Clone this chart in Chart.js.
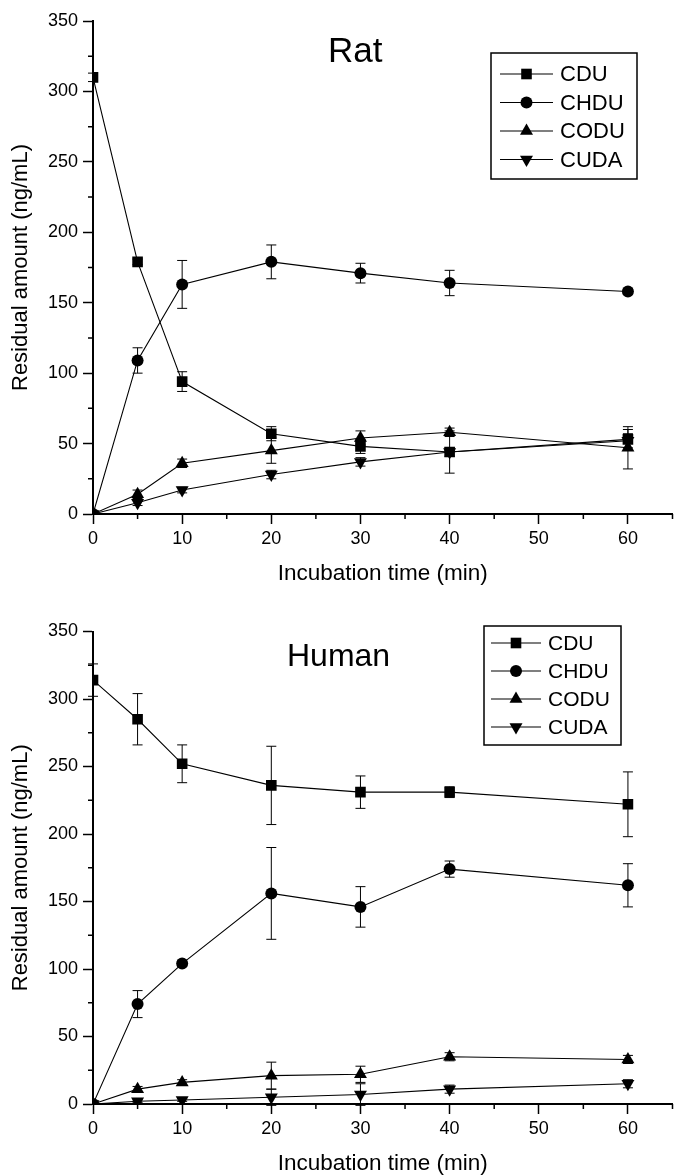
<!DOCTYPE html>
<html>
<head>
<meta charset="utf-8">
<script src="https://cdn.jsdelivr.net/npm/chart.js@4"></script>
<style>
  html, body { margin: 0; padding: 0; background: #fff; overflow: hidden; }
  #wrap { position: relative; width: 676px; height: 1175px; overflow: hidden; }
  .panel { position: absolute; left: 0; width: 680px; height: 590px; }
</style>
</head>
<body>
<div id="wrap">
  <div class="panel" style="top:0"><canvas id="rat"></canvas></div>
  <div class="panel" style="top:590px"><canvas id="human"></canvas></div>
</div>
<script>
// Datos
const times = [0, 5, 10, 20, 30, 40, 60];
const seriesNames = ['CDU', 'CHDU', 'CODU', 'CUDA'];
const xTickLabels = [0, 10, 20, 30, 40, 50, 60];
const yTickLabels = [0, 50, 100, 150, 200, 250, 300, 350];

// Rata
const ratCDU = [310, 179, 94, 57, 48, 44, 53];
const ratCDUErr = [3, 2, 7, 5, 5, 15, 7];
const ratCHDU = [0, 109, 163, 179, 171, 164, 158];
const ratCHDUErr = [0, 9, 17, 12, 7, 9, 2];
const ratCODU = [0, 14, 36, 45, 54, 58, 47];
const ratCODUErr = [0, 3, 3, 9, 5, 3, 15];
const ratCUDA = [0, 8, 17, 28, 37, 44, 52];
const ratCUDAErr = [0, 2, 2, 3, 3, 3, 5];

// Humano
const humCDU = [314, 285, 252, 236, 231, 231, 222];
const humCDUErr = [12, 19, 14, 29, 12, 4, 24];
const humCHDU = [0, 74, 104, 156, 146, 174, 162];
const humCHDUErr = [0, 10, 2, 34, 15, 6, 16];
const humCODU = [0, 11, 16, 21, 22, 35, 33];
const humCODUErr = [0, 2, 2, 10, 6, 3, 3];
const humCUDA = [0, 2, 3, 5, 7, 11, 15];
const humCUDAErr = [0, 1, 1, 6, 8, 3, 3];

const FONT = '"Liberation Sans", Arial, Helvetica, sans-serif';
const markers = [
  { pointStyle: 'rect', pointRadius: 7.5, pointRotation: 0 },
  { pointStyle: 'circle', pointRadius: 6, pointRotation: 0 },
  { pointStyle: 'triangle', pointRadius: 7.5, pointRotation: 0 },
  { pointStyle: 'triangle', pointRadius: 7.5, pointRotation: 180 }
];

// Barras de error (media +/- desviacion)
const errorBars = {
  id: 'errorBars',
  beforeDatasetsDraw(chart) {
    const { ctx, scales: { x, y } } = chart;
    ctx.save();
    ctx.strokeStyle = '#000';
    ctx.lineWidth = 1;
    chart.data.datasets.forEach(ds => {
      ds.data.forEach((p, i) => {
        const e = ds.errors[i];
        if (!e) return;
        const px = x.getPixelForValue(p.x);
        const top = y.getPixelForValue(p.y + e);
        const bot = y.getPixelForValue(p.y - e);
        ctx.beginPath();
        ctx.moveTo(px, top); ctx.lineTo(px, bot);
        ctx.moveTo(px - 5, top); ctx.lineTo(px + 5, top);
        ctx.moveTo(px - 5, bot); ctx.lineTo(px + 5, bot);
        ctx.stroke();
      });
    });
    ctx.restore();
  }
};

// Marcas menores cortas (las mayores las dibuja Chart.js)
const minorTicks = {
  id: 'minorTicks',
  afterDraw(chart) {
    const { ctx, scales: { x, y } } = chart;
    ctx.save();
    ctx.strokeStyle = '#000';
    ctx.lineWidth = 1.5;
    ctx.beginPath();
    x.ticks.forEach(t => {
      if (xTickLabels.includes(t.value)) return;
      const px = x.getPixelForValue(t.value);
      ctx.moveTo(px, x.top); ctx.lineTo(px, x.top + 5);
    });
    y.ticks.forEach(t => {
      if (yTickLabels.includes(t.value)) return;
      const py = y.getPixelForValue(t.value);
      ctx.moveTo(y.right, py); ctx.lineTo(y.right - 5, py);
    });
    ctx.stroke();
    ctx.restore();
  }
};

// Leyenda con recuadro, linea y marcador
const boxLegend = {
  id: 'boxLegend',
  afterDraw(chart, args, o) {
    const ctx = chart.ctx;
    ctx.save();
    ctx.strokeStyle = '#000';
    ctx.fillStyle = '#000';
    ctx.lineWidth = 1.5;
    ctx.strokeRect(o.left, o.top, o.width, o.height);
    ctx.font = o.fontSize + 'px ' + FONT;
    ctx.textBaseline = 'middle';
    chart.data.datasets.forEach((ds, i) => {
      const cy = o.top + o.firstRow + i * o.rowGap;
      ctx.lineWidth = 1.2;
      ctx.beginPath();
      ctx.moveTo(o.left + o.lineFrom, cy);
      ctx.lineTo(o.left + o.lineTo, cy);
      ctx.stroke();
      Chart.helpers.drawPoint(ctx, {
        pointStyle: ds.pointStyle, rotation: ds.pointRotation, radius: ds.pointRadius, borderWidth: 0
      }, o.left + (o.lineFrom + o.lineTo) / 2, cy);
      ctx.fillText(ds.label, o.left + o.textAt, cy + 1);
    });
    ctx.restore();
  }
};

// Rotulo del panel (Rat / Human)
const panelLabel = {
  id: 'panelLabel',
  afterDraw(chart, args, o) {
    const ctx = chart.ctx;
    ctx.save();
    ctx.fillStyle = '#000';
    ctx.font = o.fontSize + 'px ' + FONT;
    ctx.textBaseline = 'alphabetic';
    ctx.fillText(o.text, o.x, o.y);
    ctx.restore();
  }
};

function makeChart(id, values, errors, opts) {
  const datasets = seriesNames.map((name, k) => ({
    label: name,
    data: times.map((t, i) => ({ x: t, y: values[k][i] })),
    errors: errors[k],
    borderColor: '#000',
    borderWidth: 1.1,
    backgroundColor: '#000',
    pointBackgroundColor: '#000',
    pointBorderWidth: 0,
    pointStyle: markers[k].pointStyle,
    pointRadius: markers[k].pointRadius,
    pointRotation: markers[k].pointRotation,
    tension: 0,
    fill: false
  }));

  return new Chart(document.getElementById(id), {
    type: 'line',
    data: { datasets },
    plugins: [errorBars, minorTicks, boxLegend, panelLabel],
    options: {
      responsive: true,
      maintainAspectRatio: false,
      animation: false,
      events: [],
      layout: { padding: { top: opts.top, right: 2, left: 0, bottom: 0 } },
      plugins: {
        legend: { display: false },
        tooltip: { enabled: false },
        boxLegend: opts.legend,
        panelLabel: opts.label
      },
      scales: {
        x: {
          type: 'linear', min: 0, max: 65,
          ticks: {
            stepSize: 5, autoSkip: false, maxRotation: 0, color: '#000', padding: 4,
            font: { size: 18, family: FONT },
            callback: v => xTickLabels.includes(v) ? String(v) : ''
          },
          grid: {
            drawOnChartArea: false, tickLength: 10, tickWidth: 1.5,
            tickColor: c => (c.tick && xTickLabels.includes(c.tick.value)) ? '#000' : 'rgba(0,0,0,0)'
          },
          border: { display: true, color: '#000', width: 2 },
          title: {
            display: true, text: 'Incubation time (min)', color: '#000',
            font: { size: 22.5, family: FONT }, padding: { top: 0, bottom: 3 }
          },
          afterFit: s => { s.height = 76; }
        },
        y: {
          type: 'linear', min: 0, max: 350,
          ticks: {
            stepSize: 25, autoSkip: false, color: '#000', padding: 5,
            font: { size: 18, family: FONT },
            callback: v => yTickLabels.includes(v) ? String(v) : ''
          },
          grid: {
            drawOnChartArea: false, tickLength: 10, tickWidth: 1.5,
            tickColor: c => (c.tick && yTickLabels.includes(c.tick.value)) ? '#000' : 'rgba(0,0,0,0)'
          },
          border: { display: true, color: '#000', width: 2 },
          title: {
            display: true, text: 'Residual amount (ng/mL)', color: '#000',
            font: { size: 22, family: FONT }, padding: { top: 8, bottom: 0 }
          },
          afterFit: s => { s.width = 93; }
        }
      }
    }
  });
}

makeChart('rat',
  [ratCDU, ratCHDU, ratCODU, ratCUDA],
  [ratCDUErr, ratCHDUErr, ratCODUErr, ratCUDAErr],
  {
    top: 21,
    legend: { left: 491, top: 53, width: 146, height: 126, firstRow: 21, rowGap: 28.5,
              lineFrom: 9, lineTo: 62, textAt: 69, fontSize: 22 },
    label: { text: 'Rat', x: 328, y: 62, fontSize: 35 }
  });

makeChart('human',
  [humCDU, humCHDU, humCODU, humCUDA],
  [humCDUErr, humCHDUErr, humCODUErr, humCUDAErr],
  {
    top: 41.5,
    legend: { left: 484, top: 36, width: 137, height: 119, firstRow: 17, rowGap: 28,
              lineFrom: 7, lineTo: 57, textAt: 64, fontSize: 21 },
    label: { text: 'Human', x: 287, y: 76, fontSize: 32 }
  });
</script>
</body>
</html>
